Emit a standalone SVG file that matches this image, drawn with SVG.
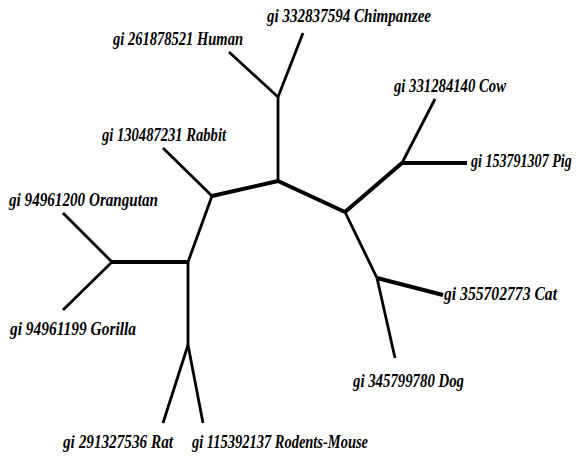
<svg xmlns="http://www.w3.org/2000/svg" width="581" height="456" viewBox="0 0 581 456">
<style>
.e{stroke:#000;stroke-width:2.8;stroke-linecap:butt;fill:none}
.t{stroke-width:4}
.l{font-family:"Liberation Serif","DejaVu Serif",serif;font-weight:bold;font-style:italic;font-size:19px;fill:#000}
</style>
<rect width="581" height="456" fill="#fff"/>
<g id="connectors">
<line class="e" x1="278" y1="97" x2="229" y2="52"/>
<line class="e" x1="278" y1="97" x2="303" y2="33"/>
<line class="e" x1="278" y1="97" x2="278" y2="181"/>
<line class="e t" x1="278" y1="181" x2="212" y2="196"/>
<line class="e" x1="212" y1="196" x2="163" y2="148"/>
<line class="e" x1="212" y1="196" x2="188" y2="262"/>
<line class="e t" x1="188" y1="262" x2="112" y2="262"/>
<line class="e" x1="112" y1="262" x2="63" y2="213"/>
<line class="e" x1="112" y1="262" x2="63" y2="310"/>
<line class="e" x1="188" y1="262" x2="188" y2="345"/>
<line class="e" x1="188" y1="345" x2="163" y2="423"/>
<line class="e" x1="188" y1="345" x2="203" y2="423"/>
<line class="e t" x1="278" y1="181" x2="345" y2="212"/>
<line class="e t" x1="345" y1="212" x2="402" y2="163"/>
<line class="e" x1="402" y1="163" x2="435" y2="99"/>
<line class="e t" x1="402" y1="163" x2="467" y2="163"/>
<line class="e" x1="345" y1="212" x2="377" y2="278"/>
<line class="e t" x1="377" y1="278" x2="443" y2="295"/>
<line class="e" x1="377" y1="278" x2="395" y2="358"/>
</g>
<g id="human"><text class="l" x="113" y="45" textLength="130" lengthAdjust="spacingAndGlyphs">gi 261878521 Human</text></g>
<g id="chimpanzee"><text class="l" x="267" y="22" textLength="164" lengthAdjust="spacingAndGlyphs">gi 332837594 Chimpanzee</text></g>
<g id="rabbit"><text class="l" x="102" y="141" textLength="124" lengthAdjust="spacingAndGlyphs">gi 130487231 Rabbit</text></g>
<g id="orangutan"><text class="l" x="9" y="206" textLength="149" lengthAdjust="spacingAndGlyphs">gi 94961200 Orangutan</text></g>
<g id="gorilla"><text class="l" x="10" y="335" textLength="126" lengthAdjust="spacingAndGlyphs">gi 94961199 Gorilla</text></g>
<g id="cow"><text class="l" x="394" y="92" textLength="112" lengthAdjust="spacingAndGlyphs">gi 331284140 Cow</text></g>
<g id="pig" transform="translate(471,167) scale(0.74,1)"><text class="l" x="0" y="0">gi 153791307 Pig</text></g>
<g id="cat"><text class="l" x="444" y="300" textLength="113" lengthAdjust="spacingAndGlyphs">gi 355702773 Cat</text></g>
<g id="dog"><text class="l" x="353" y="387" textLength="111" lengthAdjust="spacingAndGlyphs">gi 345799780 Dog</text></g>
<g id="rat"><text class="l" x="63" y="448" textLength="110" lengthAdjust="spacingAndGlyphs">gi 291327536 Rat</text></g>
<g id="mouse"><text class="l" x="192" y="448" textLength="176" lengthAdjust="spacingAndGlyphs">gi 115392137 Rodents-Mouse</text></g>
</svg>
